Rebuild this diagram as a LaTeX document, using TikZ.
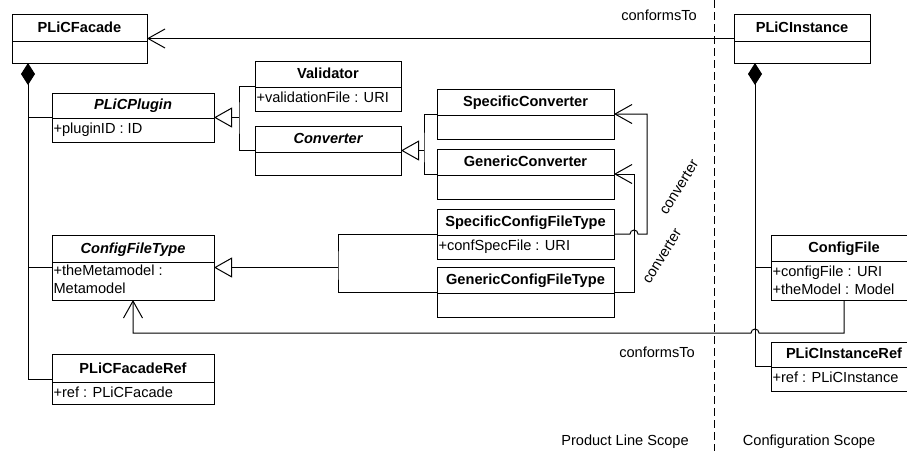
\documentclass[tikz,border=0pt]{standalone}
\usepackage{fontspec}
\setmainfont{Liberation Sans}
\usetikzlibrary{arrows.meta,fit}

\begin{document}
\begin{tikzpicture}[x=1pt,y=-1pt,line width=1pt,
  font=\fontsize{14.6}{18}\selectfont,
  cls/.style={draw,inner sep=0pt,outer sep=0pt},
  ctitle/.style={anchor=base,inner sep=0pt,font=\fontsize{14.6}{18}\selectfont\bfseries},
  ititle/.style={ctitle,font=\fontsize{14.6}{18}\selectfont\bfseries\itshape},
  cattr/.style={anchor=base west,inner xsep=1pt,inner ysep=0pt,align=left},
  lbl/.style={anchor=base,inner sep=0pt},
  gen/.style={-{Triangle[open,length=18pt,width=20pt]}},
  assoc/.style={-{Straight Barb[length=17pt,width=19pt]}},
  comp/.style={{Diamond[length=22pt,width=14pt]}-},
  scopeline/.style={dash pattern=on 8pt off 4pt}]
\useasboundingbox (0,0) rectangle (907,451);
\clip (0,0) rectangle (907,451);

% product line scope
\node[cls,fit={(12,14) (147,63)}] (facade) {};
\draw (12,41) -- (147,41);
\node[ctitle] (facade-t) at (79.5,32.5) {PLiCFacade};

\node[cls,fit={(52,93) (214,142)}] (plugin) {};
\draw (52,118) -- (214,118);
\node[ititle] (plugin-t) at (133,109.5) {PLiCPlugin};
\node[cattr] (plugin-a) at (52,133) {+pluginID : ID};

\node[cls,fit={(255,61) (401,111)}] (validator) {};
\draw (255,87) -- (401,87);
\node[ctitle] (validator-t) at (328,78.5) {Validator};
\node[cattr] (validator-a) at (255,102) {+validationFile : URI};

\node[cls,fit={(255,126) (401,175)}] (converter) {};
\draw (255,152) -- (401,152);
\node[ititle] (converter-t) at (328,143.5) {Converter};

\node[cls,fit={(437,89) (614,139)}] (specconv) {};
\draw (437,115) -- (614,115);
\node[ctitle] (specconv-t) at (525.5,106.5) {SpecificConverter};

\node[cls,fit={(437,149) (614,199)}] (genconv) {};
\draw (437,175) -- (614,175);
\node[ctitle] (genconv-t) at (525.5,166.5) {GenericConverter};

\node[cls,fit={(437,209) (614,259)}] (specfile) {};
\draw (437,235) -- (614,235);
\node[ctitle] (specfile-t) at (525.5,226.5) {SpecificConfigFileType};
\node[cattr] (specfile-a) at (437,250) {+confSpecFile : URI};

\node[cls,fit={(437,267) (614,317)}] (genfile) {};
\draw (437,293) -- (614,293);
\node[ctitle] (genfile-t) at (525.5,284.5) {GenericConfigFileType};

\node[cls,fit={(52,235) (214,300)}] (filetype) {};
\draw (52,262) -- (214,262);
\node[ititle] (filetype-t) at (133,253.5) {ConfigFileType};
% base of the last line
\node[cattr] (filetype-a) at (52,293) {+theMetamodel :\\Metamodel};

\node[cls,fit={(52,354) (214,404)}] (facaderef) {};
\draw (52,382) -- (214,382);
\node[ctitle] (facaderef-t) at (133,373.5) {PLiCFacadeRef};
\node[cattr] (facaderef-a) at (52,397) {+ref : PLiCFacade};

% configuration scope
\node[cls,fit={(734,14) (870,63)}] (instance) {};
\draw (734,41) -- (870,41);
\node[ctitle] (instance-t) at (802,32.5) {PLiCInstance};

\node[cls,fit={(771,235) (917,300)}] (configfile) {};
\draw (771,261) -- (917,261);
\node[ctitle] (configfile-t) at (844,252.5) {ConfigFile};
\node[cattr] (configfile-a) at (771,294) {+configFile : URI\\+theModel : Model};

\node[cls,fit={(771,342) (917,391)}] (instref) {};
\draw (771,367) -- (917,367);
\node[ctitle] (instref-t) at (844,358.5) {PLiCInstanceRef};
\node[cattr] (instref-a) at (771,382) {+ref : PLiCInstance};

% composition
\coordinate (facade-c) at ([xshift=16pt]facade.south west);
\draw[comp] (facade-c) |- (facaderef.west);
\draw (plugin.west) -- (plugin.west -| facade-c);
\draw (filetype.west) -- (filetype.west -| facade-c);

\coordinate (instance-c) at ([xshift=21pt]instance.south west);
\draw[comp] (instance-c) |- (instref.west);
\draw (configfile.west) -- (configfile.west -| instance-c);

% generalization
\coordinate (plugin-j) at ([xshift=25pt]plugin.east);
\draw[gen] (plugin-j) -- (plugin.east);
\draw (validator.west) -| (plugin-j) |- (converter.west);

\coordinate (conv-j) at ([xshift=23pt]converter.east);
\draw[gen] (conv-j) -- (converter.east);
\draw (specconv.west) -| (conv-j) |- (genconv.west);

\coordinate (ftype-j) at ([xshift=124pt]filetype.east);
\draw[gen] (ftype-j) -- (filetype.east);
\draw (specfile.west) -| (ftype-j) |- (genfile.west);

% associations
\draw[assoc] (instance.west) -- (facade.east);
\node[lbl] (conforms-a) at (659,20) {conformsTo};

\draw[assoc] (specfile.east) -- ++(16,0) arc[start angle=180,end angle=0,radius=4pt]
  -- ++(9,0) |- (specconv.east);
\draw[assoc] (genfile.east) -- ++(20,0) |- (genconv.east);
\node[rotate=58,inner sep=0pt] (conv-a) at (679,187) {converter};
\node[rotate=58,inner sep=0pt] (conv-b) at (662,256) {converter};

\draw[assoc] (configfile.south) |- ([xshift=4pt]instance-c |- 0,333)
  arc[start angle=0,end angle=180,radius=4pt] -| (filetype.south);
\node[lbl] (conforms-b) at (657,357) {conformsTo};

% scopes
\draw[scopeline] (714,0) -- (714,451);
\node[lbl] (pl-scope) at (625,445) {Product Line Scope};
\node[lbl] (cfg-scope) at (809,445) {Configuration Scope};
\end{tikzpicture}
\end{document}
